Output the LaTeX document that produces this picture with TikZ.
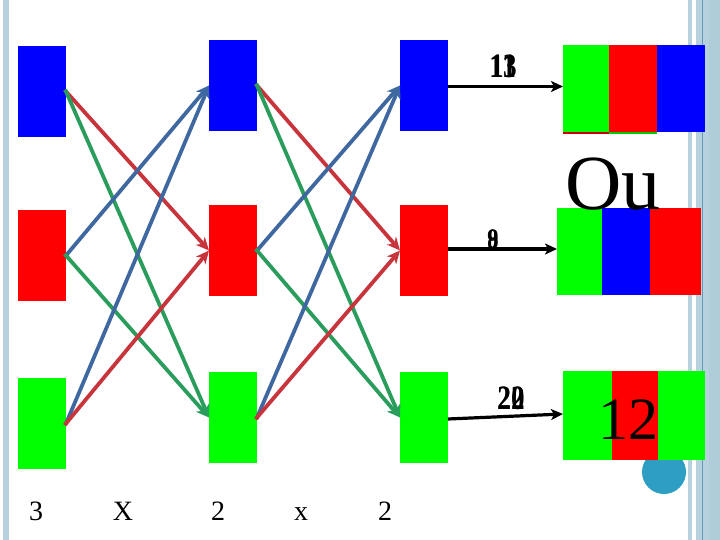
\documentclass[tikz,border=0pt]{standalone}
\usepackage{fontspec}
\setmainfont{Liberation Serif}
\usetikzlibrary{arrows.meta}
\definecolor{pblue}{HTML}{0000FF}
\definecolor{pred}{HTML}{FF0000}
\definecolor{pgreen}{HTML}{00FF00}
\definecolor{lred}{HTML}{C8343C}
\definecolor{lgreen}{HTML}{2A9C5C}
\definecolor{lblue}{HTML}{4068A0}
\definecolor{bord}{HTML}{B7D2DE}
\definecolor{bordd}{HTML}{5E9DB8}
\definecolor{bordr}{HTML}{AFCDD9}
\definecolor{dot}{HTML}{2E9EC2}
\begin{document}
\begin{tikzpicture}[x=1pt,y=-1pt,
  cell/.style={draw=none,inner sep=0pt,outer sep=0pt,minimum width=48pt,minimum height=91pt},
  ocell/.style={draw=none,inner sep=0pt,outer sep=0pt,minimum height=#1},
  link/.style={line width=3.8pt,-{Stealth[length=13pt,width=12pt,inset=4pt]},shorten <=-2pt},
  outarrow/.style={line width=3.2pt,black,-{Stealth[length=12pt,width=11pt,inset=3pt]}},
  lab/.style={font=\fontsize{28}{30}\selectfont,anchor=base,inner sep=0pt},
  alab/.style={font=\fontsize{34}{36}\selectfont\bfseries,anchor=base,inner sep=0pt,xscale=0.8}]
\useasboundingbox (0,0) rectangle (720,540);
% slide borders
\fill[bord] (3,0) rectangle (9,540);
\fill[bord] (688,0) rectangle (692,540);
\fill[bord] (696,0) rectangle (702,540);
\fill[bord] (703,0) rectangle (709,540);
\fill[bordr] (709,0) rectangle (720,540);
\draw[bordd,line width=1pt] (702.5,0) -- (702.5,540);
% decorative dot
\fill[dot] (664,472) circle (22);
% column 1
\node[cell,fill=pblue] (b1) at (42,91.5) {};
\node[cell,fill=pred] (r1) at (42,255.5) {};
\node[cell,fill=pgreen] (g1) at (42,423.5) {};
% column 2
\node[cell,fill=pblue] (b2) at (233,85.5) {};
\node[cell,fill=pred] (r2) at (233,250.5) {};
\node[cell,fill=pgreen] (g2) at (233,417.5) {};
% column 3
\node[cell,fill=pblue] (b3) at (424,85.5) {};
\node[cell,fill=pred] (r3) at (424,250.5) {};
\node[cell,fill=pgreen] (g3) at (424,417.5) {};
% links 1 -> 2
\draw[link,lred] (b1.east) -- (r2.west);
\draw[link,lgreen] (b1.east) -- (g2.west);
\draw[link,lblue] (r1.east) -- (b2.west);
\draw[link,lgreen] (r1.east) -- (g2.west);
\draw[link,lblue] (g1.east) -- (b2.west);
\draw[link,lred] (g1.east) -- (r2.west);
% links 2 -> 3
\draw[link,lred] (b2.east) -- (r3.west);
\draw[link,lgreen] (b2.east) -- (g3.west);
\draw[link,lblue] (r2.east) -- (b3.west);
\draw[link,lgreen] (r2.east) -- (g3.west);
\draw[link,lblue] (g2.east) -- (b3.west);
\draw[link,lred] (g2.east) -- (r3.west);
% output row 1
\node[ocell=87pt,minimum width=46pt,fill=pgreen] (o1a) at (586,88.5) {};
\node[ocell=87pt,minimum width=48pt,fill=pred] (o1b) at (633,88.5) {};
\node[ocell=87pt,minimum width=48pt,fill=pblue] (o1c) at (681,88.5) {};
\fill[pred!80!black] (o1a.south west) rectangle ([yshift=-2pt]o1a.south east);
\fill[pgreen!80!black] (o1b.south west) rectangle ([yshift=-2pt]o1b.south east);
% output row 2
\node[ocell=87pt,minimum width=45pt,fill=pgreen] (o2a) at (579.5,251.5) {};
\node[ocell=87pt,minimum width=48pt,fill=pblue] (o2b) at (626,251.5) {};
\node[ocell=87pt,minimum width=51pt,fill=pred] (o2c) at (675.5,251.5) {};
% output row 3
\node[ocell=89pt,minimum width=49pt,fill=pgreen] (o3a) at (587.5,415.5) {};
\node[ocell=89pt,minimum width=46pt,fill=pred] (o3b) at (635,415.5) {};
\node[ocell=89pt,minimum width=47pt,fill=pgreen] (o3c) at (681.5,415.5) {};
% output arrows
\draw[outarrow] ([yshift=-1pt]b3.east) -- ([yshift=2pt]o1a.west);
\draw[outarrow] ([yshift=1.5pt]r3.east) -- ([yshift=2.5pt]o2a.west);
\draw[outarrow] ([yshift=-1.5pt]g3.east) -- ([yshift=1.5pt]o3a.west);
% arrow labels (overlapping animation texts)
\node[alab] (t1a) at (503,78) {13};
\node[alab] (t1b) at (503,78) {11};
\node[alab,font=\fontsize{28}{30}\selectfont\bfseries] (t2a) at (493,248) {8};
\node[alab,font=\fontsize{28}{30}\selectfont\bfseries] (t2b) at (493,248) {9};
\node[alab] (t3a) at (511,409) {20};
\node[alab] (t3b) at (511,409) {22};
% big texts
\node[anchor=base,inner sep=0pt,font=\fontsize{78}{80}\selectfont] (ou) at (613,210) {Ou};
\node[anchor=base,inner sep=0pt,font=\fontsize{60}{62}\selectfont] (twelve) at (628,439) {12};
% bottom labels
\node[lab] (n1) at (36,520) {3};
\node[lab] (n2) at (123,520) {X};
\node[lab] (n3) at (218,520) {2};
\node[lab] (n4) at (301,520) {x};
\node[lab] (n5) at (385,520) {2};
\end{tikzpicture}
\end{document}
